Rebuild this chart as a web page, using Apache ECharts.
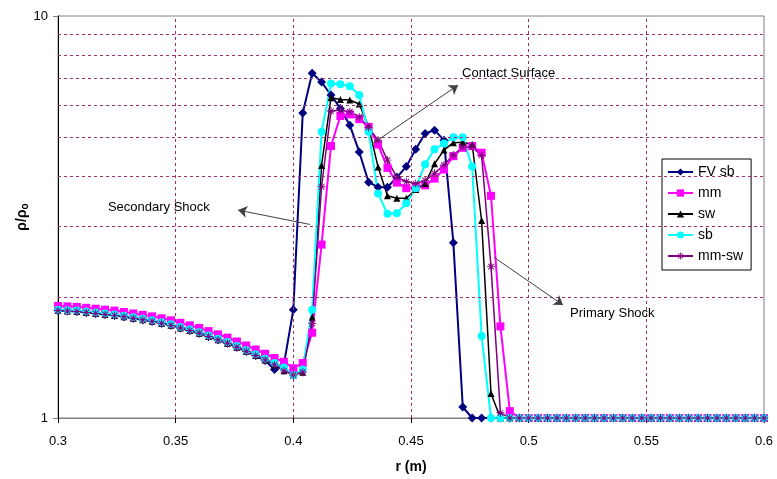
<!DOCTYPE html>
<html>
<head>
<meta charset="utf-8">
<script src="https://cdn.jsdelivr.net/npm/echarts@6/dist/echarts.min.js"></script>
<style>
  html, body { margin: 0; padding: 0; background: #fff; }
  #chart { width: 777px; height: 479px; }
</style>
</head>
<body>
<div id="chart"></div>
<script>
// radial positions r (m)
const radius = [
  0.300, 0.304, 0.308, 0.312, 0.316, 0.320, 0.324, 0.328, 0.332, 0.336,
  0.340, 0.344, 0.348, 0.352, 0.356, 0.360, 0.364, 0.368, 0.372, 0.376,
  0.380, 0.384, 0.388, 0.392, 0.396, 0.400, 0.404, 0.408, 0.412, 0.416,
  0.420, 0.424, 0.428, 0.432, 0.436, 0.440, 0.444, 0.448, 0.452, 0.456,
  0.460, 0.464, 0.468, 0.472, 0.476, 0.480, 0.484, 0.488, 0.492, 0.496,
  0.500, 0.504, 0.508, 0.512, 0.516, 0.520, 0.524, 0.528, 0.532, 0.536,
  0.540, 0.544, 0.548, 0.552, 0.556, 0.560, 0.564, 0.568, 0.572, 0.576,
  0.580, 0.584, 0.588, 0.592, 0.596, 0.600
];

// density ratio rho/rho0 for each scheme
const fvSb = [
  1.85, 1.845, 1.84, 1.83, 1.82, 1.81, 1.80, 1.785, 1.77, 1.755,
  1.74, 1.72, 1.70, 1.675, 1.65, 1.625, 1.595, 1.565, 1.535, 1.50,
  1.465, 1.43, 1.39, 1.32, 1.36, 1.86, 5.74, 7.20, 6.85, 6.36,
  5.89, 5.35, 4.59, 3.86, 3.75, 3.75, 3.97, 4.22, 4.66, 5.10,
  5.20, 4.91, 2.73, 1.065, 1.0, 1.0, 1.0, 1.0, 1.0, 1.0,
  1.0, 1.0, 1.0, 1.0, 1.0, 1.0, 1.0, 1.0, 1.0, 1.0,
  1.0, 1.0, 1.0, 1.0, 1.0, 1.0, 1.0, 1.0, 1.0, 1.0,
  1.0, 1.0, 1.0, 1.0, 1.0, 1.0
];
const mm = [
  1.90, 1.895, 1.89, 1.88, 1.87, 1.86, 1.85, 1.835, 1.82, 1.805,
  1.79, 1.77, 1.75, 1.725, 1.70, 1.675, 1.645, 1.615, 1.585, 1.55,
  1.515, 1.48, 1.445, 1.41, 1.38, 1.33, 1.37, 1.63, 2.70, 4.75,
  5.64, 5.69, 5.54, 5.30, 4.79, 4.19, 3.85, 3.73, 3.75, 3.79,
  3.94, 4.15, 4.48, 4.70, 4.75, 4.57, 3.57, 1.69, 1.04, 1.0,
  1.0, 1.0, 1.0, 1.0, 1.0, 1.0, 1.0, 1.0, 1.0, 1.0,
  1.0, 1.0, 1.0, 1.0, 1.0, 1.0, 1.0, 1.0, 1.0, 1.0,
  1.0, 1.0, 1.0, 1.0, 1.0, 1.0
];
const sw = [
  1.85, 1.845, 1.84, 1.83, 1.82, 1.81, 1.80, 1.785, 1.77, 1.755,
  1.74, 1.72, 1.70, 1.675, 1.65, 1.625, 1.595, 1.565, 1.535, 1.50,
  1.465, 1.43, 1.395, 1.355, 1.31, 1.28, 1.30, 1.78, 4.25, 6.26,
  6.20, 6.18, 6.04, 5.30, 4.21, 3.57, 3.52, 3.52, 3.70, 3.83,
  4.29, 4.64, 4.84, 4.85, 4.79, 3.10, 1.15, 1.0, 1.0, 1.0,
  1.0, 1.0, 1.0, 1.0, 1.0, 1.0, 1.0, 1.0, 1.0, 1.0,
  1.0, 1.0, 1.0, 1.0, 1.0, 1.0, 1.0, 1.0, 1.0, 1.0,
  1.0, 1.0, 1.0, 1.0, 1.0, 1.0
];
const sb = [
  1.86, 1.855, 1.85, 1.84, 1.83, 1.82, 1.81, 1.795, 1.78, 1.765,
  1.75, 1.73, 1.71, 1.685, 1.66, 1.635, 1.605, 1.575, 1.545, 1.51,
  1.475, 1.44, 1.405, 1.37, 1.335, 1.28, 1.32, 1.86, 5.15, 6.79,
  6.76, 6.69, 6.36, 5.15, 3.62, 3.22, 3.23, 3.42, 3.73, 4.28,
  4.66, 4.82, 4.99, 4.99, 4.22, 1.60, 1.0, 1.0, 1.0, 1.0,
  1.0, 1.0, 1.0, 1.0, 1.0, 1.0, 1.0, 1.0, 1.0, 1.0,
  1.0, 1.0, 1.0, 1.0, 1.0, 1.0, 1.0, 1.0, 1.0, 1.0,
  1.0, 1.0, 1.0, 1.0, 1.0, 1.0
];
const mmSw = [
  1.85, 1.845, 1.84, 1.83, 1.82, 1.81, 1.80, 1.785, 1.77, 1.755,
  1.74, 1.72, 1.70, 1.675, 1.65, 1.625, 1.595, 1.565, 1.535, 1.50,
  1.465, 1.43, 1.395, 1.355, 1.31, 1.28, 1.30, 1.72, 3.76, 5.80,
  5.83, 5.78, 5.61, 5.28, 4.91, 4.38, 3.97, 3.87, 3.83, 3.90,
  4.06, 4.26, 4.51, 4.72, 4.72, 4.50, 2.38, 1.03, 1.0, 1.0,
  1.0, 1.0, 1.0, 1.0, 1.0, 1.0, 1.0, 1.0, 1.0, 1.0,
  1.0, 1.0, 1.0, 1.0, 1.0, 1.0, 1.0, 1.0, 1.0, 1.0,
  1.0, 1.0, 1.0, 1.0, 1.0, 1.0
];

// dashed gridlines: minor decades on the log axis, inner r ticks
const minorGrid = [2, 3, 4, 5, 6, 7, 8, 9];
const rGrid = [0.35, 0.4, 0.45, 0.5, 0.55];

// annotations: [text, text anchor (r, rho), arrow tail, arrow head]
const notes = [
  ['Contact Surface', [0.4717, 7.2], [0.4334, 4.80], [0.4700, 6.73]],
  ['Secondary Shock', [0.3212, 3.34], [0.4071, 3.03], [0.3765, 3.29]],
  ['Primary Shock', [0.5176, 1.82], [0.4853, 2.51], [0.5146, 1.91]]
];

const pairs = vals => radius.map((r, i) => [r, vals[i]]);
const asterisk = 'path://M-0.6,-5H0.6V5H-0.6Z M-5,-0.6H5V0.6H-5Z M-3.9,-3.1L-3.1,-3.9L3.9,3.1L3.1,3.9Z M3.1,-3.9L3.9,-3.1L-3.1,3.9L-3.9,3.1Z';
const FONT = 'Liberation Sans, Arial, sans-serif';
const GRID_COLOR = '#a0306c';

function lineSeries(name, vals, color, symbol, size, width) {
  return {
    name, type: 'line', data: pairs(vals),
    symbol, symbolSize: size, showAllSymbol: true,
    lineStyle: { color, width },
    itemStyle: { color, borderWidth: 0 },
    emphasis: { disabled: true },
    animation: false
  };
}

const chart = echarts.init(document.getElementById('chart'), null, { renderer: 'canvas' });

chart.setOption({
  backgroundColor: '#ffffff',
  animation: false,
  textStyle: { fontFamily: FONT },
  grid: {
    left: 58, right: 13, top: 16, bottom: 61,
    show: true, borderColor: '#808080', borderWidth: 1
  },
  legend: {
    orient: 'vertical', left: 662, top: 159,
    data: ['FV sb', 'mm', 'sw', 'sb', 'mm-sw'],
    itemWidth: 25, itemHeight: 9, itemGap: 7,
    padding: [6, 8, 7, 5],
    borderColor: '#000', borderWidth: 1,
    backgroundColor: '#fff',
    textStyle: { fontSize: 14, color: '#000', fontFamily: FONT }
  },
  xAxis: {
    type: 'value', min: 0.3, max: 0.6, interval: 0.05,
    name: 'r (m)', nameLocation: 'middle', nameGap: 42,
    nameTextStyle: { fontSize: 14, fontWeight: 'bold', color: '#000', fontFamily: FONT },
    axisLine: { lineStyle: { color: '#808080', width: 1 } },
    axisTick: { show: true, inside: false, length: 5, lineStyle: { color: '#000' } },
    axisLabel: { fontSize: 13, color: '#000', margin: 17, fontFamily: FONT },
    splitLine: { show: false }
  },
  yAxis: {
    type: 'log', logBase: 10, min: 1, max: 10,
    name: '{a|ρ/ρ}{b|o}', nameLocation: 'middle', nameGap: 28,
    nameMoveOverlap: false,
    nameTextStyle: {
      fontWeight: 'bold', color: '#000', fontFamily: FONT,
      rich: {
        a: { fontSize: 14, fontWeight: 'bold', fontFamily: FONT },
        b: { fontSize: 10, fontWeight: 'bold', fontFamily: FONT, padding: [6, 0, 0, 0] }
      }
    },
    axisLine: { show: true, lineStyle: { color: '#000', width: 1 } },
    axisTick: { show: true, inside: false, length: 5, lineStyle: { color: '#808080' } },
    axisLabel: { fontSize: 13, color: '#000', margin: 10, fontFamily: FONT },
    splitLine: { show: false }
  },
  series: [
    {
      type: 'line', data: [[0.3, 1]], symbol: 'none', silent: true,
      lineStyle: { opacity: 0 },
      markLine: {
        silent: true, symbol: 'none', animation: false,
        label: { show: false },
        lineStyle: { color: GRID_COLOR, type: [3, 3], width: 1 },
        data: minorGrid.map(v => ({ yAxis: v })).concat(rGrid.map(v => ({ xAxis: v })))
      }
    },
    lineSeries('FV sb', fvSb, '#000080', 'diamond', 9, 2),
    lineSeries('mm', mm, '#ff00ff', 'rect', 8, 2),
    lineSeries('sw', sw, '#000000', 'triangle', 7, 1.5),
    lineSeries('sb', sb, '#00ffff', 'circle', 8, 2),
    lineSeries('mm-sw', mmSw, '#800080', asterisk, 8, 1.5),
    {
      type: 'line', data: [[0.3, 1]], symbol: 'none', silent: true,
      lineStyle: { opacity: 0 },
      markLine: {
        silent: true, animation: false,
        symbol: ['none', 'arrow'], symbolSize: 9,
        label: { show: false },
        itemStyle: { color: '#303030' },
        lineStyle: { color: '#404040', type: 'solid', width: 1 },
        data: notes.map(n => [{ coord: n[2] }, { coord: n[3] }])
      },
      markPoint: {
        silent: true, animation: false,
        symbol: 'circle', symbolSize: 0,
        label: {
          show: true, position: 'right', distance: 0,
          color: '#000', fontSize: 13, fontFamily: FONT
        },
        data: notes.map(n => ({ coord: n[1], label: { formatter: n[0] } }))
      }
    }
  ]
});
</script>
</body>
</html>
